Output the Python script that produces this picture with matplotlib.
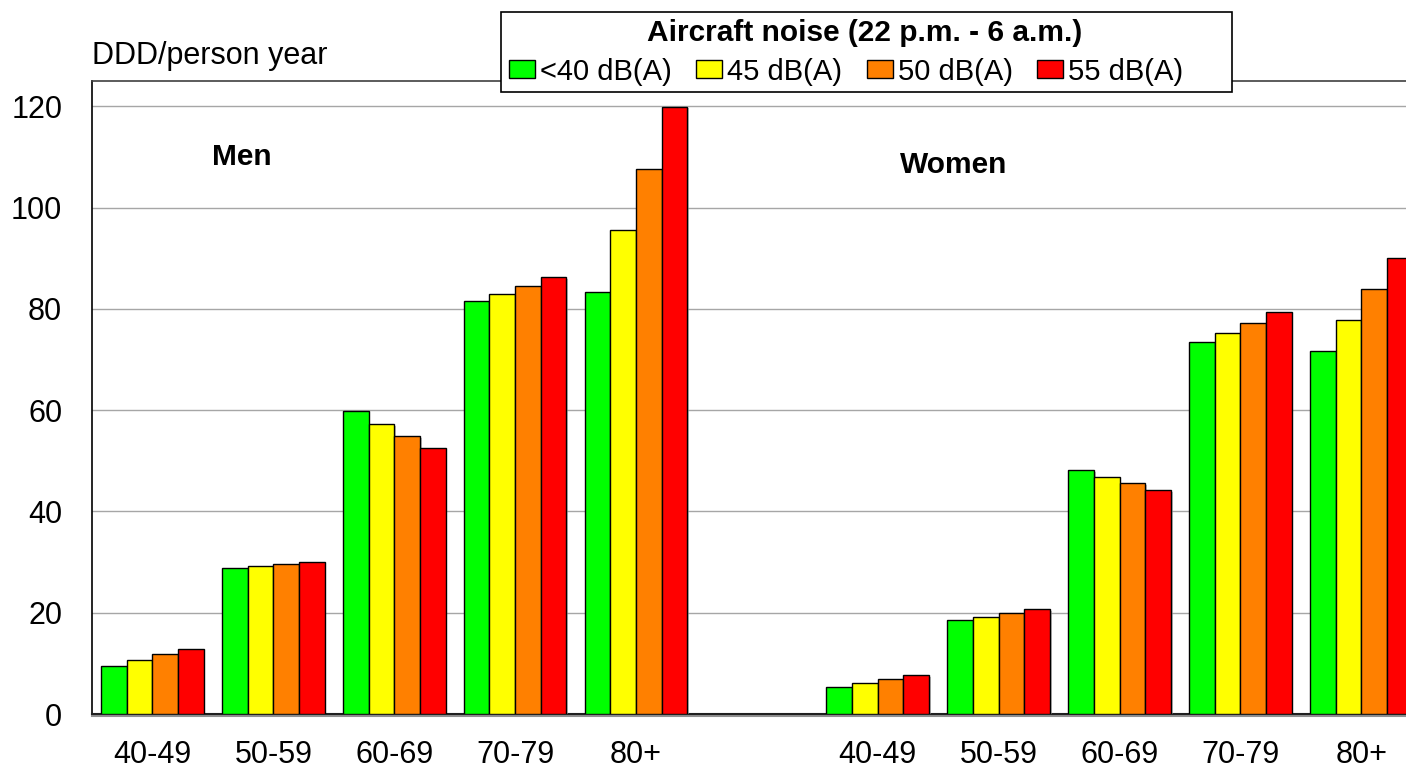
import matplotlib
matplotlib.use("Agg")
import matplotlib.pyplot as plt
import matplotlib.patheffects as pe
from matplotlib.patches import Rectangle
import numpy as np

plt.rcParams['font.family'] = ['Liberation Sans', 'DejaVu Sans']

# ---- data ----
age_groups = ["40-49", "50-59", "60-69", "70-79", "80+"]
noise_levels = ["<40 dB(A)", "45 dB(A)", "50 dB(A)", "55 dB(A)"]
colors = ["#00FF00", "#FFFF00", "#FF8000", "#FF0000"]

men_lt40 = [9.4, 28.8, 59.8, 81.5, 83.3]
men_45 = [10.6, 29.2, 57.2, 82.9, 95.5]
men_50 = [11.8, 29.6, 54.9, 84.5, 107.7]
men_55 = [12.8, 30.0, 52.5, 86.2, 119.9]

women_lt40 = [5.3, 18.5, 48.2, 73.4, 71.7]
women_45 = [6.1, 19.1, 46.8, 75.3, 77.9]
women_50 = [6.9, 19.9, 45.6, 77.3, 83.9]
women_55 = [7.7, 20.7, 44.2, 79.3, 90.1]

men = [men_lt40, men_45, men_50, men_55]
women = [women_lt40, women_45, women_50, women_55]

legend_title = "Aircraft noise (22 p.m. - 6 a.m.)"
y_label = "DDD/person year"

# ---- figure ----
W, H = 1406, 769
fig = plt.figure(figsize=(W / 100, H / 100), dpi=100)
ax_left, ax_right, ax_top, ax_bottom = 92, 1421.75, 81, 714
ax = fig.add_axes([ax_left / W, (H - ax_bottom) / H,
                   (ax_right - ax_left) / W, (ax_bottom - ax_top) / H])

n = len(age_groups)
men_x = np.arange(n)
women_x = np.arange(n) + n + 1
bw = 0.2125
offsets = (np.arange(4) - 1.5) * bw

shadow = [pe.SimplePatchShadow(offset=(1.2, -1.2), shadow_rgbFace="#9a9a9a",
                               alpha=0.6), pe.Normal()]

handles = []
for i in range(4):
    b = ax.bar(men_x + offsets[i], men[i], width=bw, color=colors[i],
               edgecolor="black", linewidth=1.0, zorder=3)
    b2 = ax.bar(women_x + offsets[i], women[i], width=bw, color=colors[i],
                edgecolor="black", linewidth=1.0, zorder=3)
    for p in list(b) + list(b2):
        p.set_path_effects(shadow)
    handles.append(b)

ax.set_xlim(-0.5, 2 * n + 0.5)
ax.set_ylim(0, 125)
ax.set_yticks(np.arange(0, 121, 20))
ax.set_xticks(np.concatenate([men_x, women_x]))
ax.set_xticklabels(age_groups + age_groups)
ax.tick_params(axis="both", length=0, labelsize=22)
ax.tick_params(axis="y", pad=21.5)
ax.tick_params(axis="x", pad=19)
ax.yaxis.grid(True, color="#a6a6a6", linewidth=1.0, zorder=0)
ax.set_axisbelow(True)

ax.spines["left"].set_color("black")
ax.spines["left"].set_linewidth(1.2)
ax.spines["top"].set_color("#404040")
ax.spines["top"].set_linewidth(1.2)
ax.spines["right"].set_visible(False)
ax.spines["bottom"].set_color("#202020")
ax.spines["bottom"].set_linewidth(1.5)
ax.spines["bottom"].set_path_effects([
    pe.SimpleLineShadow(offset=(0, -1.6), shadow_color="#909090", alpha=1.0),
    pe.Normal()])

# group labels
ax.text(0.494, 108.5, "Men", fontsize=21.5, fontweight="bold",
        ha="left", va="baseline")
ax.text(6.184, 106.8, "Women", fontsize=21.5, fontweight="bold",
        ha="left", va="baseline")

# y-axis unit label
fig.text(92 / W, 1 - 64.3 / H, y_label, fontsize=22, ha="left", va="baseline")

# legend frame and title
box_l, box_r, box_t, box_b = 500.7, 1231.7, 12.3, 91.7
fig.patches.append(Rectangle((box_l / W, 1 - box_b / H),
                             (box_r - box_l) / W, (box_b - box_t) / H,
                             transform=fig.transFigure, facecolor="white",
                             edgecolor="black", linewidth=1.2, zorder=4))
fig.text(865 / W, 1 - 41 / H, legend_title, fontsize=21.5, fontweight="bold",
         ha="center", va="baseline", zorder=6)

leg = fig.legend(handles, noise_levels, ncol=4, loc="center left",
                 bbox_to_anchor=(509.3 / W, 1 - 71.5 / H),
                 frameon=False, borderpad=0, borderaxespad=0,
                 fontsize=21, handlelength=0.89, handleheight=0.55,
                 handletextpad=0.17, columnspacing=0.84)
leg.set_zorder(6)
for h in leg.legend_handles:
    h.set_path_effects([])

fig.savefig("out.png", dpi=100)
